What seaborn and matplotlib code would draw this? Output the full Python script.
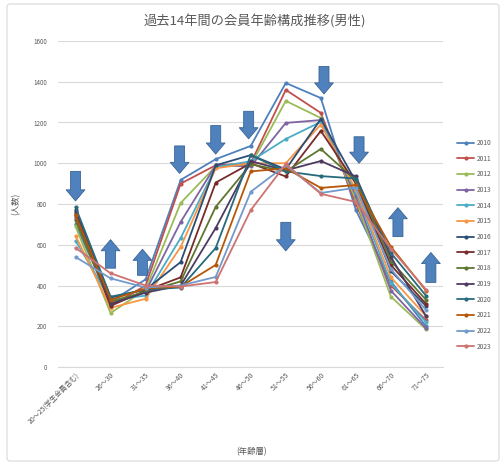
import matplotlib
matplotlib.use("Agg")
import matplotlib.pyplot as plt
from matplotlib.lines import Line2D
from matplotlib.patches import FancyBboxPatch
import numpy as np
import pandas as pd
import seaborn as sns

# Age brackets (x axis)
age_groups = ["20～25(学生会員含む)", "26～30", "31～35", "36～40", "41～45", "46～50",
              "51～55", "56～60", "61～65", "66～70", "71～75"]

years = ["2010", "2011", "2012", "2013", "2014", "2015", "2016",
         "2017", "2018", "2019", "2020", "2021", "2022", "2023"]

# Number of male members per age bracket, one list per year
m2010 = [700, 320, 430, 918, 1020, 1085, 1394, 1320, 770, 420, 200]
m2011 = [730, 300, 400, 900, 990, 1000, 1360, 1247, 800, 400, 230]
m2012 = [690, 265, 380, 805, 985, 990, 1306, 1222, 820, 345, 185]
m2013 = [740, 310, 370, 712, 990, 985, 1198, 1212, 840, 375, 190]
m2014 = [620, 330, 350, 633, 980, 1010, 1119, 1203, 860, 410, 220]
m2015 = [645, 290, 335, 589, 975, 1000, 1000, 1190, 870, 440, 250]
m2016 = [760, 340, 380, 515, 990, 1040, 970, 1217, 910, 470, 300]
m2017 = [750, 300, 375, 440, 905, 1000, 935, 1159, 900, 500, 310]
m2018 = [720, 320, 370, 420, 786, 995, 960, 1070, 915, 520, 330]
m2019 = [770, 310, 365, 400, 682, 1010, 965, 1011, 935, 540, 250]
m2020 = [785, 345, 380, 390, 584, 1040, 960, 937, 925, 560, 350]
m2021 = [745, 330, 385, 395, 501, 960, 975, 879, 893, 590, 375]
m2022 = [540, 435, 390, 400, 442, 860, 990, 854, 880, 480, 280]
m2023 = [585, 460, 400, 395, 417, 770, 996, 850, 810, 580, 380]

series = [m2010, m2011, m2012, m2013, m2014, m2015, m2016,
          m2017, m2018, m2019, m2020, m2021, m2022, m2023]

colors = ["#4F81BD", "#C0504D", "#9BBB59", "#8064A2", "#4BACC6", "#F79646", "#2C4D75",
          "#772C2A", "#5F7530", "#4D3B62", "#276A7C", "#B65708", "#729ACA", "#CD7371"]

# Trend arrows: (x position, tail value, tip value)
down_arrows = [(0.0, 960, 815), (2.97, 1085, 950), (4.0, 1185, 1045), (4.94, 1255, 1120),
               (6.0, 710, 570), (7.09, 1475, 1340), (8.09, 1130, 1000)]
up_arrows = [(1.0, 485, 625), (1.91, 450, 578), (9.2, 640, 782), (10.14, 415, 562)]

rows = []
for yr, vals in zip(years, series):
    for i, v in enumerate(vals):
        rows.append({"年": yr, "pos": i, "人数": v})
df = pd.DataFrame(rows)

sns.set_theme(style="white")
plt.rcParams["font.family"] = ["Noto Sans CJK JP", "DejaVu Sans"]

W, H = 502, 465
fig = plt.figure(figsize=(W / 100, H / 100), dpi=100)
ax = fig.add_axes([58 / W, 1 - 367 / H, (443.5 - 58) / W, (367 - 41) / H])

# outer chart frame
frame = FancyBboxPatch((7 / W, 4 / H), (W - 10) / W, (H - 8) / H,
                       boxstyle="round,pad=0,rounding_size=0.006",
                       transform=fig.transFigure, fc="none", ec="#D9D9D9", lw=0.8,
                       zorder=-5)
fig.patches.append(frame)

sns.lineplot(data=df, x="pos", y="人数", hue="年", hue_order=years,
             palette=colors, marker="o", markersize=3, markeredgewidth=0,
             linewidth=1.3, legend=False, ax=ax)

ax.set_xlim(-0.5, 10.5)
ax.set_ylim(0, 1600)
ax.set_yticks(np.arange(0, 1601, 200))
ax.yaxis.grid(True, color="#D9D9D9", lw=0.8)
ax.set_axisbelow(True)
ax.set_xticks(range(len(age_groups)))
ax.set_xticklabels(age_groups, rotation=45, ha="right", rotation_mode="anchor",
                   fontsize=5, color="#595959")
ax.tick_params(axis="y", labelsize=4.5, labelcolor="#595959", length=0, pad=8)
ax.tick_params(axis="x", length=0, pad=3)
for side in ["top", "right", "left"]:
    ax.spines[side].set_visible(False)
ax.spines["bottom"].set_color("#D9D9D9")
ax.spines["bottom"].set_linewidth(0.8)

ax.set_xlabel("(年齢層)", fontsize=6, color="#595959", labelpad=4)
ax.set_ylabel("(人数)", fontsize=6, color="#595959", labelpad=6)
ax.xaxis.set_label_coords((252 - 58) / (443.5 - 58), -(447 - 367) / (367 - 41))
ax.yaxis.set_label_coords(-(58 - 20) / (443.5 - 58), 0.5)

fig.text(255 / W, 1 - 22 / H, "過去14年間の会員年齢構成推移(男性)", ha="center", va="center",
         fontsize=9.5, color="#595959")

arrow_style = "simple,head_length=0.8,head_width=1.35,tail_width=0.72"
for x, y0, y1 in down_arrows + up_arrows:
    ax.annotate("", xy=(x, y1), xytext=(x, y0),
                arrowprops=dict(arrowstyle=arrow_style, fc="#4F81BD", ec="#3A6496",
                                lw=0.6, shrinkA=0, shrinkB=0, mutation_scale=10),
                zorder=5)

handles = [Line2D([0], [0], color=c, lw=1.3, marker="o", markersize=3, markeredgewidth=0)
           for c in colors]
fig.legend(handles, years, loc="upper left", bbox_to_anchor=(457 / W, 1 - 139 / H),
           frameon=False, fontsize=4.8, labelcolor="#595959", handlelength=2.6,
           handletextpad=0.3, labelspacing=1.15, borderaxespad=0, borderpad=0)

fig.savefig("out.png", dpi=100)
